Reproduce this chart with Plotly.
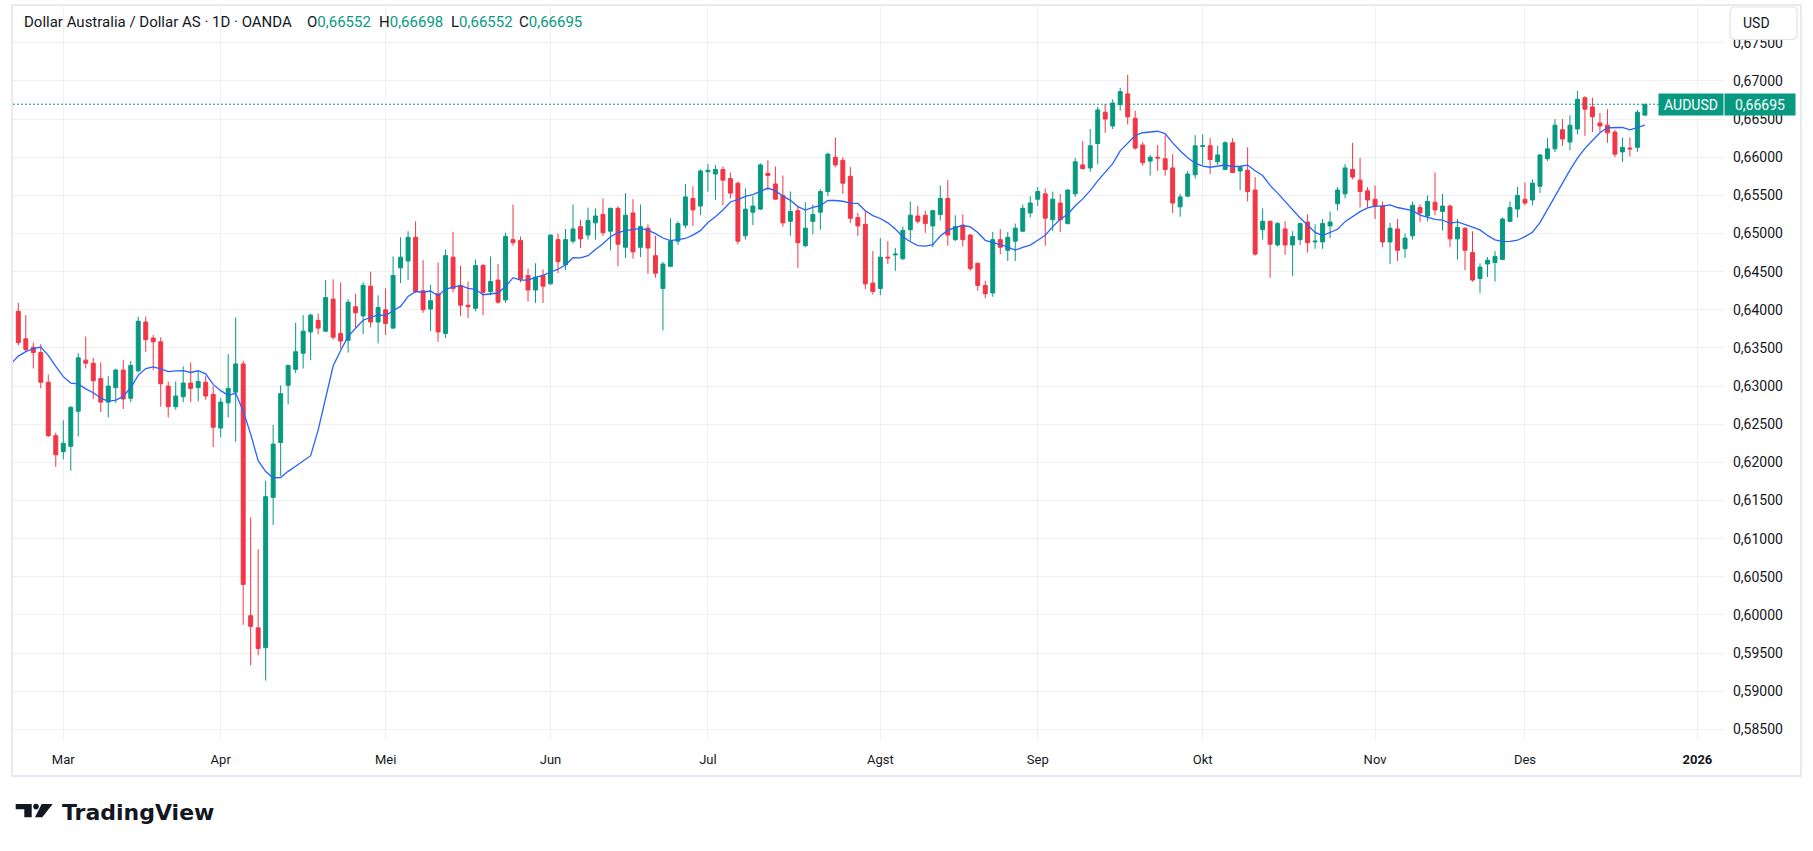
import pandas as pd
import plotly.graph_objects as go

# OANDA AUDUSD, daily bars (weekdays), 21 Feb 2025 .. 23 Dec 2025
dates = pd.bdate_range("2025-02-21", "2025-12-23")

opens = [
    0.6398, 0.6362, 0.6351, 0.6344, 0.6305, 0.6235,
    0.6214, 0.6221, 0.6267, 0.6334, 0.6330, 0.6310, 0.6279, 0.6298, 0.6321, 0.6284, 0.6320, 0.6384, 0.6363, 0.6358, 0.6300, 0.6273, 0.6286, 0.6304, 0.6298, 0.6305, 0.6289,
    0.6245, 0.6278, 0.6292, 0.6329, 0.5999, 0.5983, 0.5957, 0.6154, 0.6226, 0.6301, 0.6322, 0.6343, 0.6371, 0.6386, 0.6372, 0.6414, 0.6369, 0.6360, 0.6404, 0.6392, 0.6431, 0.6384,
    0.6400, 0.6376, 0.6455, 0.6464, 0.6495, 0.6425, 0.6401, 0.6421, 0.6369, 0.6469, 0.6432, 0.6406, 0.6402, 0.6458, 0.6424, 0.6439, 0.6413, 0.6492, 0.6491, 0.6445, 0.6426, 0.6445,
    0.6434, 0.6492, 0.6459, 0.6490, 0.6509, 0.6498, 0.6514, 0.6525, 0.6503, 0.6533, 0.6482, 0.6527, 0.6482, 0.6507, 0.6471, 0.6428, 0.6457, 0.6490, 0.6511, 0.6546, 0.6536,
    0.6581, 0.6578, 0.6584, 0.6572, 0.6566, 0.6497, 0.6528, 0.6532, 0.6579, 0.6565, 0.6550, 0.6516, 0.6530, 0.6484, 0.6516, 0.6528, 0.6555, 0.6600, 0.6596, 0.6575, 0.6521, 0.6512, 0.6435,
    0.6428, 0.6469, 0.6472, 0.6467, 0.6505, 0.6523, 0.6524, 0.6510, 0.6525, 0.6546, 0.6492, 0.6511, 0.6498, 0.6461, 0.6432, 0.6422, 0.6492, 0.6478, 0.6490, 0.6503, 0.6527,
    0.6545, 0.6552, 0.6518, 0.6540, 0.6513, 0.6552, 0.6590, 0.6586, 0.6618, 0.6659, 0.6641, 0.6669, 0.6683, 0.6651, 0.6616, 0.6595, 0.6600, 0.6598, 0.6586, 0.6535, 0.6549, 0.6577,
    0.6614, 0.6615, 0.6594, 0.6584, 0.6619, 0.6582, 0.6583, 0.6557, 0.6505, 0.6516, 0.6485, 0.6506, 0.6485, 0.6492, 0.6515, 0.6489, 0.6489, 0.6510, 0.6539, 0.6552, 0.6584, 0.6570, 0.6556,
    0.6545, 0.6536, 0.6489, 0.6506, 0.6480, 0.6497, 0.6534, 0.6523, 0.6541, 0.6529, 0.6536, 0.6493, 0.6507, 0.6475, 0.6441, 0.6460, 0.6462, 0.6466, 0.6516, 0.6532,
    0.6545, 0.6544, 0.6562, 0.6598, 0.6611, 0.6636, 0.6620, 0.6637, 0.6678, 0.6666, 0.6645, 0.6642, 0.6633, 0.6607, 0.6612, 0.6613, 0.66552,
]
highs = [
    0.6409, 0.6393, 0.6357, 0.6355, 0.6315, 0.6239,
    0.6255, 0.6274, 0.6343, 0.6365, 0.6337, 0.6331, 0.6313, 0.6323, 0.6334, 0.6333, 0.6391, 0.6391, 0.6367, 0.6364, 0.6306, 0.6306, 0.6326, 0.6331, 0.6320, 0.6313, 0.6300,
    0.6284, 0.6342, 0.6390, 0.6333, 0.6128, 0.6086, 0.6176, 0.6249, 0.6301, 0.6328, 0.6383, 0.6393, 0.6395, 0.6395, 0.6439, 0.6440, 0.6436, 0.6414, 0.6421, 0.6436, 0.6450, 0.6419,
    0.6428, 0.6470, 0.6495, 0.6503, 0.6516, 0.6465, 0.6433, 0.6462, 0.6479, 0.6502, 0.6458, 0.6437, 0.6466, 0.6460, 0.6470, 0.6460, 0.6501, 0.6538, 0.6496, 0.6454, 0.6461, 0.6453,
    0.6499, 0.6500, 0.6506, 0.6538, 0.6518, 0.6534, 0.6533, 0.6546, 0.6534, 0.6536, 0.6553, 0.6545, 0.6538, 0.6512, 0.6497, 0.6463, 0.6520, 0.6516, 0.6565, 0.6562, 0.6584,
    0.6591, 0.6590, 0.6588, 0.6580, 0.6568, 0.6559, 0.6549, 0.6592, 0.6596, 0.6588, 0.6576, 0.6555, 0.6536, 0.6541, 0.6538, 0.6558, 0.6606, 0.6626, 0.6600, 0.6587, 0.6527, 0.6530, 0.6477,
    0.6494, 0.6490, 0.6481, 0.6509, 0.6542, 0.6536, 0.6530, 0.6531, 0.6563, 0.6570, 0.6524, 0.6525, 0.6499, 0.6462, 0.6438, 0.6502, 0.6506, 0.6502, 0.6513, 0.6538, 0.6549,
    0.6561, 0.6559, 0.6555, 0.6552, 0.6558, 0.6599, 0.6621, 0.6637, 0.6666, 0.6670, 0.6676, 0.6691, 0.6708, 0.6661, 0.6620, 0.6603, 0.6616, 0.6629, 0.6604, 0.6552, 0.6582, 0.6629,
    0.6630, 0.6625, 0.6615, 0.6621, 0.6625, 0.6588, 0.6613, 0.6574, 0.6533, 0.6517, 0.6515, 0.6516, 0.6503, 0.6514, 0.6525, 0.6512, 0.6519, 0.6529, 0.6561, 0.6591, 0.6619, 0.6599, 0.6561,
    0.6563, 0.6542, 0.6514, 0.6519, 0.6500, 0.6542, 0.6538, 0.6550, 0.6580, 0.6552, 0.6538, 0.6519, 0.6508, 0.6503, 0.6461, 0.6469, 0.6477, 0.6521, 0.6542, 0.6561,
    0.6567, 0.6571, 0.6604, 0.6625, 0.6650, 0.6650, 0.6655, 0.6687, 0.6680, 0.6678, 0.6658, 0.6663, 0.6636, 0.6626, 0.6626, 0.6662, 0.66698,
]
lows = [
    0.6353, 0.6345, 0.6323, 0.6297, 0.6233, 0.6194,
    0.6204, 0.6189, 0.6234, 0.6323, 0.6283, 0.6266, 0.6259, 0.6278, 0.6270, 0.6279, 0.6318, 0.6345, 0.6321, 0.6273, 0.6259, 0.6269, 0.6279, 0.6279, 0.6280, 0.6282, 0.6220,
    0.6233, 0.6259, 0.6227, 0.5987, 0.5934, 0.5947, 0.5914, 0.6118, 0.6182, 0.6276, 0.6317, 0.6323, 0.6334, 0.6368, 0.6371, 0.6361, 0.6349, 0.6344, 0.6376, 0.6368, 0.6377, 0.6356,
    0.6367, 0.6375, 0.6435, 0.6439, 0.6422, 0.6396, 0.6372, 0.6358, 0.6363, 0.6423, 0.6392, 0.6389, 0.6398, 0.6393, 0.6419, 0.6408, 0.6409, 0.6484, 0.6436, 0.6411, 0.6409, 0.6409,
    0.6433, 0.6448, 0.6452, 0.6487, 0.6481, 0.6492, 0.6492, 0.6497, 0.6478, 0.6457, 0.6468, 0.6467, 0.6469, 0.6447, 0.6442, 0.6373, 0.6457, 0.6485, 0.6507, 0.6510, 0.6524,
    0.6555, 0.6544, 0.6537, 0.6546, 0.6486, 0.6492, 0.6511, 0.6531, 0.6557, 0.6544, 0.6509, 0.6497, 0.6455, 0.6482, 0.6499, 0.6505, 0.6549, 0.6587, 0.6552, 0.6514, 0.6497, 0.6427, 0.6420,
    0.6419, 0.6460, 0.6451, 0.6465, 0.6490, 0.6513, 0.6501, 0.6482, 0.6517, 0.6484, 0.6490, 0.6483, 0.6451, 0.6425, 0.6415, 0.6417, 0.6473, 0.6464, 0.6464, 0.6502, 0.6521,
    0.6536, 0.6484, 0.6503, 0.6502, 0.6512, 0.6548, 0.6584, 0.6581, 0.6591, 0.6632, 0.6637, 0.6661, 0.6643, 0.6610, 0.6589, 0.6576, 0.6582, 0.6576, 0.6527, 0.6522, 0.6548, 0.6572,
    0.6590, 0.6578, 0.6590, 0.6583, 0.6579, 0.6557, 0.6542, 0.6471, 0.6492, 0.6442, 0.6483, 0.6472, 0.6444, 0.6485, 0.6475, 0.6480, 0.6480, 0.6494, 0.6530, 0.6546, 0.6571, 0.6534, 0.6534,
    0.6519, 0.6482, 0.6460, 0.6464, 0.6468, 0.6492, 0.6515, 0.6516, 0.6524, 0.6504, 0.6482, 0.6466, 0.6452, 0.6437, 0.6422, 0.6443, 0.6437, 0.6465, 0.6515, 0.6521,
    0.6537, 0.6537, 0.6553, 0.6595, 0.6607, 0.6615, 0.6609, 0.6630, 0.6628, 0.6633, 0.6633, 0.6619, 0.6600, 0.6594, 0.6601, 0.6607, 0.66552,
]
closes = [
    0.6357, 0.6348, 0.6344, 0.6305, 0.6235, 0.6210,
    0.6225, 0.6272, 0.6337, 0.6330, 0.6307, 0.6279, 0.6300, 0.6321, 0.6283, 0.6327, 0.6385, 0.6361, 0.6358, 0.6303, 0.6273, 0.6287, 0.6304, 0.6297, 0.6306, 0.6287, 0.6246,
    0.6279, 0.6297, 0.6329, 0.6040, 0.5985, 0.5956, 0.6155, 0.6224, 0.6290, 0.6327, 0.6345, 0.6372, 0.6393, 0.6376, 0.6416, 0.6364, 0.6359, 0.6410, 0.6396, 0.6432, 0.6384, 0.6403,
    0.6382, 0.6445, 0.6469, 0.6495, 0.6424, 0.6400, 0.6412, 0.6371, 0.6471, 0.6428, 0.6406, 0.6404, 0.6458, 0.6423, 0.6437, 0.6410, 0.6496, 0.6488, 0.6440, 0.6426, 0.6443, 0.6431,
    0.6498, 0.6463, 0.6492, 0.6506, 0.6493, 0.6517, 0.6523, 0.6501, 0.6533, 0.6486, 0.6524, 0.6476, 0.6509, 0.6481, 0.6448, 0.6460, 0.6490, 0.6513, 0.6548, 0.6531, 0.6582,
    0.6583, 0.6584, 0.6570, 0.6553, 0.6490, 0.6532, 0.6536, 0.6590, 0.6576, 0.6545, 0.6514, 0.6529, 0.6488, 0.6507, 0.6525, 0.6555, 0.6604, 0.6590, 0.6566, 0.6520, 0.6510, 0.6434, 0.6424,
    0.6469, 0.6468, 0.6473, 0.6504, 0.6524, 0.6516, 0.6513, 0.6530, 0.6546, 0.6498, 0.6509, 0.6492, 0.6454, 0.6432, 0.6421, 0.6492, 0.6482, 0.6495, 0.6507, 0.6533, 0.6540,
    0.6555, 0.6520, 0.6545, 0.6518, 0.6557, 0.6594, 0.6585, 0.6615, 0.6662, 0.6650, 0.6671, 0.6686, 0.6653, 0.6612, 0.6593, 0.6600, 0.6599, 0.6584, 0.6540, 0.6548, 0.6578, 0.6615,
    0.6615, 0.6597, 0.6603, 0.6619, 0.6580, 0.6587, 0.6555, 0.6473, 0.6516, 0.6486, 0.6513, 0.6485, 0.6496, 0.6513, 0.6488, 0.6490, 0.6513, 0.6515, 0.6557, 0.6586, 0.6574, 0.6555, 0.6544,
    0.6536, 0.6489, 0.6507, 0.6478, 0.6494, 0.6537, 0.6527, 0.6542, 0.6531, 0.6536, 0.6493, 0.6508, 0.6478, 0.6439, 0.6456, 0.6465, 0.6470, 0.6519, 0.6534, 0.6550,
    0.6540, 0.6566, 0.6603, 0.6611, 0.6642, 0.6624, 0.6642, 0.6676, 0.6663, 0.6653, 0.6641, 0.6632, 0.6604, 0.6613, 0.6611, 0.6659, 0.66695,
]
assert all(len(a) == len(dates) for a in (opens, highs, lows, closes))

# closes 7..20 Feb (left of the visible window), they only feed the moving average
prior_closes = [0.6254, 0.6290, 0.6305, 0.6283, 0.6345, 0.6355, 0.6358, 0.6357, 0.6347, 0.6396]
ma_length = 10

month_labels = ["Mar", "Apr", "Mei", "Jun", "Jul", "Agst", "Sep", "Okt", "Nov", "Des", "<b>2026</b>"]
price_ticks = [0.585, 0.590, 0.595, 0.600, 0.605, 0.610, 0.615, 0.620, 0.625, 0.630,
               0.635, 0.640, 0.645, 0.650, 0.655, 0.660, 0.665, 0.670, 0.675]

UP, DOWN, MA_COLOR = "#089981", "#f23645", "#2962ff"
TEXT, GRID, FRAME = "#131722", "#eef0f4", "#e0e3eb"
FONT = "Roboto"

# page geometry in pixels
W, H = 1813, 851
ML, MR, MT, MB = 13, 89, 5, 111


def fx(px):
    return (px - ML) / (W - ML - MR)


def fy(py):
    return (H - MB - py) / (H - MT - MB)


def rounded_box(x0, y0, x1, y1, r):
    # rounded rectangle path, pixel corners converted to paper coords
    pts = [
        ("M", x0 + r, y0), ("L", x1 - r, y0), ("Q", x1, y0, x1, y0 + r),
        ("L", x1, y1 - r), ("Q", x1, y1, x1 - r, y1), ("L", x0 + r, y1),
        ("Q", x0, y1, x0, y1 - r), ("L", x0, y0 + r), ("Q", x0, y0, x0 + r, y0),
    ]
    parts = []
    for p in pts:
        cmd, coords = p[0], p[1:]
        xy = []
        for k in range(0, len(coords), 2):
            xy.append(f"{fx(coords[k])},{fy(coords[k + 1])}")
        parts.append(cmd + " " + " ".join(xy))
    return " ".join(parts) + " Z"


# bar index axis: weekdays, running on to the first bar of 2026
calendar = pd.bdate_range("2025-02-21", "2026-01-02")
month_starts = [i for i in range(1, len(calendar)) if calendar[i].month != calendar[i - 1].month]
bar_x = list(range(len(dates)))

all_closes = pd.Series(prior_closes + closes)
ma = all_closes.rolling(ma_length).mean()
ma_x = list(range(-len(prior_closes), len(closes)))
ma_pts = [(x, v) for x, v in zip(ma_x, ma) if pd.notna(v)]

fig = go.Figure()

fig.add_trace(go.Candlestick(
    x=bar_x, open=opens, high=highs, low=lows, close=closes,
    text=[d.strftime("%d %b %Y") for d in dates], hoverinfo="text+y",
    increasing=dict(line=dict(color=UP, width=1), fillcolor=UP),
    decreasing=dict(line=dict(color=DOWN, width=1), fillcolor=DOWN),
    whiskerwidth=0, showlegend=False,
))

fig.add_trace(go.Scatter(
    x=[p[0] for p in ma_pts], y=[p[1] for p in ma_pts], mode="lines",
    line=dict(color=MA_COLOR, width=1.3), hoverinfo="skip", showlegend=False,
))

last_close = closes[-1]
last_str = f"{last_close:.5f}".replace(".", ",")

shapes = [
    # chart frame
    dict(type="rect", xref="paper", yref="paper", x0=fx(12), x1=fx(1801), y0=fy(776), y1=fy(5),
         line=dict(color=FRAME, width=1.5), layer="below"),
    # last price line
    dict(type="line", xref="paper", yref="y", x0=0, x1=1, y0=last_close, y1=last_close,
         line=dict(color=UP, width=1, dash="2px,2px")),
    # currency button (covers the top price label, as in the terminal)
    dict(type="path", xref="paper", yref="paper", path=rounded_box(1730, 7, 1797, 39.5, 5),
         fillcolor="white", line=dict(color=FRAME, width=1.2), layer="above"),
    # TradingView mark
    dict(type="path", xref="paper", yref="paper", fillcolor="#131722", line=dict(width=0),
         path="M {} {} L {} {} L {} {} L {} {} L {} {} L {} {} Z".format(
             fx(15.7), fy(804), fx(31.7), fy(804), fx(31.7), fy(817.3),
             fx(24.3), fy(817.3), fx(24.3), fy(809.3), fx(15.7), fy(809.3))),
    dict(type="circle", xref="paper", yref="paper", fillcolor="#131722", line=dict(width=0),
         x0=fx(33.2), x1=fx(38.8), y0=fy(809.4), y1=fy(803.8)),
    dict(type="path", xref="paper", yref="paper", fillcolor="#131722", line=dict(width=0),
         path="M {} {} L {} {} L {} {} L {} {} Z".format(
             fx(41.7), fy(804), fx(52.7), fy(804), fx(42.3), fy(817.3), fx(35.0), fy(817.3))),
]

title_y = fy(21.5)
annotations = [
    dict(xref="paper", yref="paper", x=fx(22), y=title_y, xanchor="left", yanchor="middle",
         text="Dollar Australia / Dollar AS · 1D · OANDA", showarrow=False,
         font=dict(family=FONT, size=15, color=TEXT)),
]
ohlc = [("O", opens[-1], 305), ("H", highs[-1], 377), ("L", lows[-1], 449), ("C", closes[-1], 517)]
for letter, val, px in ohlc:
    annotations.append(dict(
        xref="paper", yref="paper", x=fx(px), y=title_y, xanchor="left", yanchor="middle",
        text=f"{letter}<span style='color:{UP}'>{val:.5f}</span>".replace(".", ","),
        showarrow=False, font=dict(family=FONT, size=15, color=TEXT)))

annotations += [
    dict(xref="paper", yref="y", x=fx(1691), y=last_close, xanchor="center", yanchor="middle",
         text="AUDUSD", showarrow=False, bgcolor=UP, width=60, height=17, borderpad=2,
         font=dict(family=FONT, size=14, color="white")),
    dict(xref="paper", yref="y", x=fx(1760), y=last_close, xanchor="center", yanchor="middle",
         text=last_str, showarrow=False, bgcolor=UP, width=66, height=17, borderpad=2,
         font=dict(family=FONT, size=14, color="white")),
    dict(xref="paper", yref="paper", x=fx(1741), y=fy(23), xanchor="left", yanchor="middle",
         text="USD", showarrow=False, font=dict(family=FONT, size=14, color=TEXT)),
    dict(xref="paper", yref="paper", x=fx(60), y=fy(812), xanchor="left", yanchor="middle",
         text="<b>TradingView</b>", showarrow=False,
         font=dict(family="DejaVu Sans", size=22, color="#131722")),
]

fig.update_layout(
    width=W, height=H,
    margin=dict(l=ML, r=MR, t=MT, b=MB),
    paper_bgcolor="white", plot_bgcolor="white",
    separators=",.",
    boxgap=0.25, boxgroupgap=0.3,
    hovermode="closest",
    shapes=shapes, annotations=annotations,
    xaxis=dict(
        range=[-0.707, 227.55], rangeslider=dict(visible=False),
        tickmode="array", tickvals=month_starts, ticktext=month_labels,
        showgrid=True, gridcolor=GRID, gridwidth=1, zeroline=False, showline=False,
        ticks="", ticklabelstandoff=10, tickfont=dict(family=FONT, size=13, color=TEXT),
    ),
    yaxis=dict(
        side="right", range=[0.58360, 0.67996],
        tickmode="array", tickvals=price_ticks, tickformat=".5f",
        showgrid=True, gridcolor=GRID, gridwidth=1, zeroline=False, showline=False,
        ticks="", ticklabelstandoff=8, tickfont=dict(family=FONT, size=14, color=TEXT),
    ),
)

# the page body keeps an 8px default margin; drop it so the figure sits at the window origin
fig.write_html("out.html", config={"displayModeBar": False},
               post_script="document.body.style.margin = '0';")
